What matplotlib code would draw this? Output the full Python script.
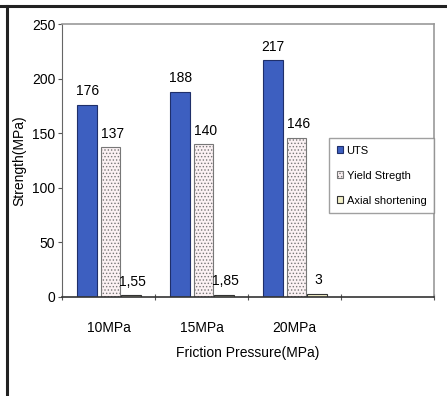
import numpy as np, matplotlib.pyplot as plt
from matplotlib.lines import Line2D

plt.rcParams['font.family'] = ['Liberation Sans Narrow', 'Liberation Sans', 'DejaVu Sans']
plt.rcParams['hatch.color'] = '#d9a8b4'
plt.rcParams['hatch.linewidth'] = 0.6

categories = ['10MPa', '15MPa', '20MPa', '']
uts = [176, 188, 217]
yield_str = [137, 140, 146]
axial = [1.55, 1.85, 3]
axial_labels = ['1,55', '1,85', '3']
series_names = ['UTS', 'Yield Stregth', 'Axial shortening']

fig = plt.figure(figsize=(4.47, 3.96), dpi=100)
ax = fig.add_axes([0.139, 0.25, 0.832, 0.689])

x = np.arange(len(uts))
w = 0.21
ax.bar(x - 0.23, uts, w, color='#3d5fc0', edgecolor='#1f2f6a', linewidth=0.8, label=series_names[0])
ax.bar(x + 0.02, yield_str, w, color='#fbf1f3', edgecolor='#777777', linewidth=0.8,
       hatch='.....', label=series_names[1])
ax.bar(x + 0.24, axial, w, color='#f3f0c8', edgecolor='#333333', linewidth=0.8, label=series_names[2])

fs = 10
for xi, v in zip(x, uts):
    ax.text(xi - 0.23, v + 6, str(v), ha='center', va='bottom', fontsize=fs)
for xi, v in zip(x, yield_str):
    ax.text(xi + 0.04, v + 6, str(v), ha='center', va='bottom', fontsize=fs)
for xi, v, lab in zip(x, axial, axial_labels):
    ax.text(xi + 0.26, v + 6, lab, ha='center', va='bottom', fontsize=fs)

ax.set_xlim(-0.5, len(categories) - 0.5)
ax.set_ylim(0, 250)
ax.set_yticks([0, 50, 100, 150, 200, 250])
ax.tick_params(axis='y', labelsize=fs, length=3, color='#555555', pad=2)

ax.set_xticks(np.arange(len(categories) + 1) - 0.5)
ax.set_xticklabels([])
ax.set_xticks(np.arange(len(categories)), minor=True)
ax.set_xticklabels(categories, minor=True, fontsize=fs)
ax.tick_params(axis='x', which='major', length=4, direction='inout', color='#555555')
ax.tick_params(axis='x', which='minor', length=0, pad=17)

for s in ['top', 'right']:
    ax.spines[s].set_color('#999999')
    ax.spines[s].set_linewidth(1.2)
ax.spines['left'].set_color('#666666')
ax.spines['bottom'].set_color('#333333')
ax.spines['bottom'].set_linewidth(1.2)

ax.set_ylabel('Strength(MPa)', fontsize=fs, labelpad=4)
ax.set_xlabel('Friction Pressure(MPa)', fontsize=fs, labelpad=8)

leg = ax.legend(loc='center right', bbox_to_anchor=(1.0, 0.445), fontsize=8,
                frameon=True, fancybox=False, edgecolor='#888888',
                handlelength=0.6, handleheight=0.6, handletextpad=0.3,
                borderpad=0.7, labelspacing=1.35, borderaxespad=0)
leg.get_frame().set_linewidth(1.0)

# outer frame lines (top and left only)
fig.add_artist(Line2D([0, 1], [0.985, 0.985], color='#222222', lw=2.2, transform=fig.transFigure))
fig.add_artist(Line2D([0.016, 0.016], [0, 0.985], color='#222222', lw=2.2, transform=fig.transFigure))

fig.savefig('out.png', dpi=100)
